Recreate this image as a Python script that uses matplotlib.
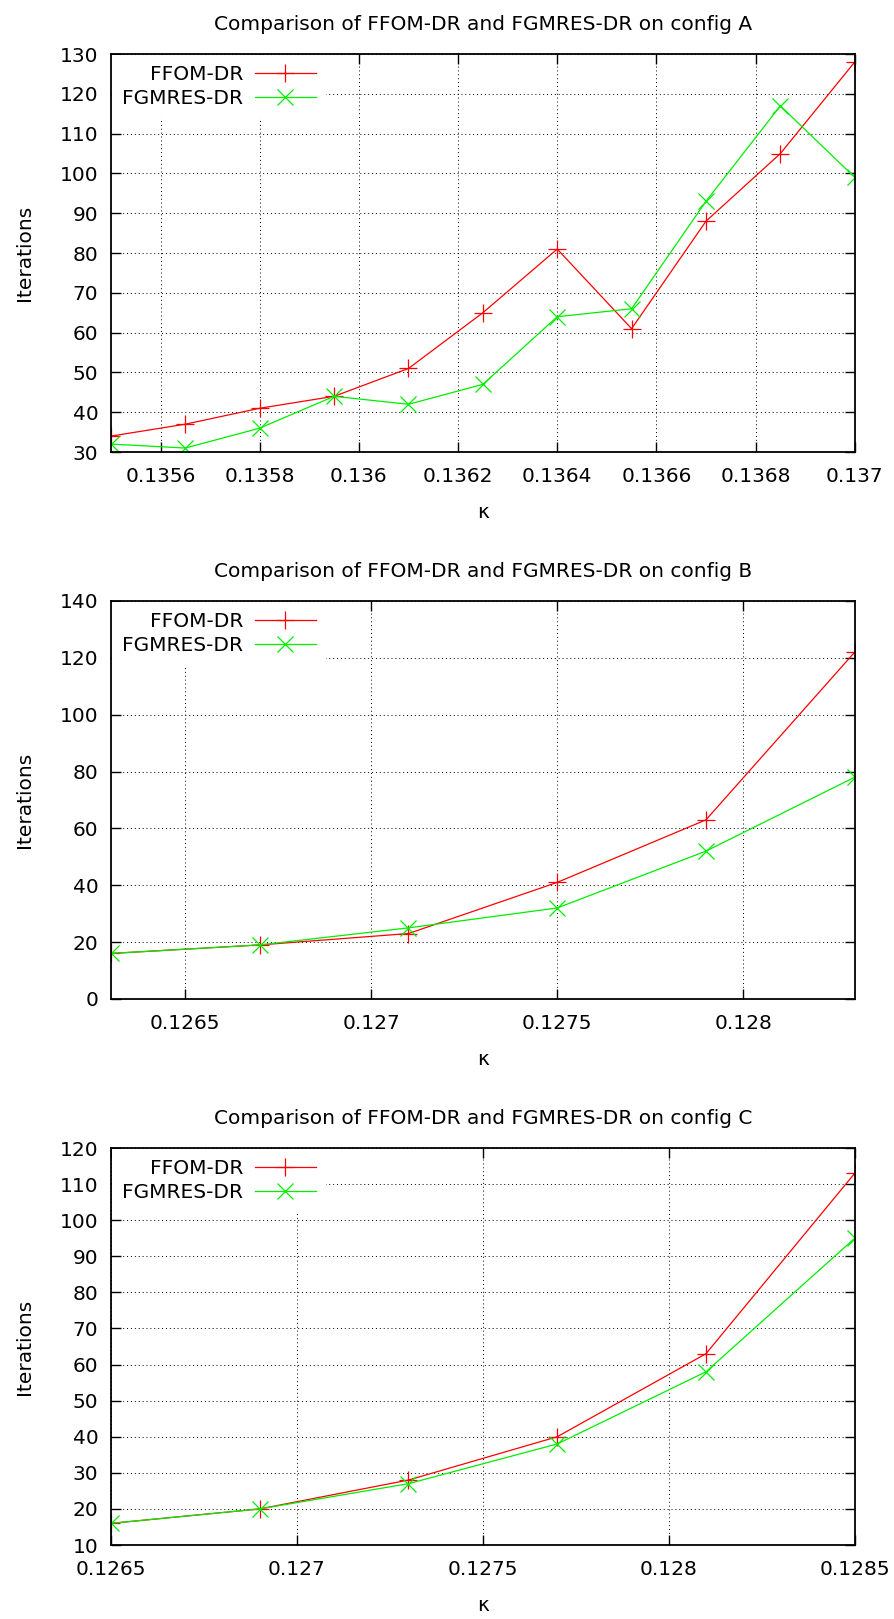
import matplotlib
matplotlib.use('Agg')
import matplotlib.pyplot as plt
from matplotlib.ticker import FormatStrFormatter

# config A
kappa_a = [0.1355, 0.13565, 0.1358, 0.13595, 0.1361, 0.13625, 0.1364, 0.13655, 0.1367, 0.13685, 0.137]
ffom_a = [34, 37, 41, 44, 51, 65, 81, 61, 88, 105, 128]
fgmres_a = [32, 31, 36, 44, 42, 47, 64, 66, 93, 117, 99]
xticks_a = [0.1356, 0.1358, 0.136, 0.1362, 0.1364, 0.1366, 0.1368, 0.137]
yticks_a = [30, 40, 50, 60, 70, 80, 90, 100, 110, 120, 130]

# config B
kappa_b = [0.1263, 0.1267, 0.1271, 0.1275, 0.1279, 0.1283]
ffom_b = [16, 19, 23, 41, 63, 122]
fgmres_b = [16, 19, 25, 32, 52, 78]
xticks_b = [0.1265, 0.127, 0.1275, 0.128]
yticks_b = [0, 20, 40, 60, 80, 100, 120, 140]

# config C
kappa_c = [0.1265, 0.1269, 0.1273, 0.1277, 0.1281, 0.1285]
ffom_c = [16, 20, 28, 40, 63, 113]
fgmres_c = [16, 20, 27, 38, 58, 95]
xticks_c = [0.1265, 0.127, 0.1275, 0.128, 0.1285]
yticks_c = [10, 20, 30, 40, 50, 60, 70, 80, 90, 100, 110, 120]

plt.rcParams['font.family'] = 'DejaVu Sans'
plt.rcParams['font.size'] = 14.5

fig = plt.figure(figsize=(8.95, 16.19), dpi=100)

# [left, bottom, width, height] in figure fraction
boxes = [
    [0.124, 0.7208, 0.831, 0.2458],
    [0.124, 0.3830, 0.831, 0.2458],
    [0.124, 0.0457, 0.831, 0.2452],
]


def draw_panel(box, name, x, ffom, fgmres, xticks, yticks, xlim):
    ax = fig.add_axes(box)
    ax.plot(x, ffom, color='#ff0000', lw=0.9, marker='+', ms=13, mew=0.9, label='FFOM-DR')
    ax.plot(x, fgmres, color='#00ee00', lw=0.9, marker='x', ms=11, mew=0.9, label='FGMRES-DR')
    ax.set_xlim(xlim)
    ax.set_ylim(yticks[0], yticks[-1])
    ax.set_xticks(xticks)
    ax.set_yticks(yticks)
    ax.xaxis.set_major_formatter(FormatStrFormatter('%g'))
    ax.grid(True, color='black', linestyle=(0, (1, 3)), lw=0.7)
    ax.tick_params(direction='in', top=True, right=True, length=7, width=1)
    ax.tick_params(axis='x', pad=11)
    ax.tick_params(axis='y', pad=9)
    for s in ax.spines.values():
        s.set_linewidth(1.3)
    ax.set_title('Comparison of FFOM-DR and FGMRES-DR on config ' + name, fontsize=14.5, pad=17)
    ax.set_xlabel('κ')
    ax.set_ylabel('Iterations')
    ax.xaxis.set_label_coords(0.5, -0.128)
    ax.yaxis.set_label_coords(-0.104, 0.5)
    leg = ax.legend(loc='upper left', markerfirst=False, frameon=True, fancybox=False,
                    handlelength=3.0, handletextpad=0.6, labelspacing=0.25,
                    borderpad=0.5, borderaxespad=0.05, fontsize=14.5)
    leg.get_frame().set_facecolor('white')
    leg.get_frame().set_edgecolor('none')
    leg.get_frame().set_alpha(1)
    return ax


draw_panel(boxes[0], 'A', kappa_a, ffom_a, fgmres_a, xticks_a, yticks_a, (0.1355, 0.137))
draw_panel(boxes[1], 'B', kappa_b, ffom_b, fgmres_b, xticks_b, yticks_b, (0.1263, 0.1283))
draw_panel(boxes[2], 'C', kappa_c, ffom_c, fgmres_c, xticks_c, yticks_c, (0.1265, 0.1285))

fig.savefig('out.png', dpi=100)
